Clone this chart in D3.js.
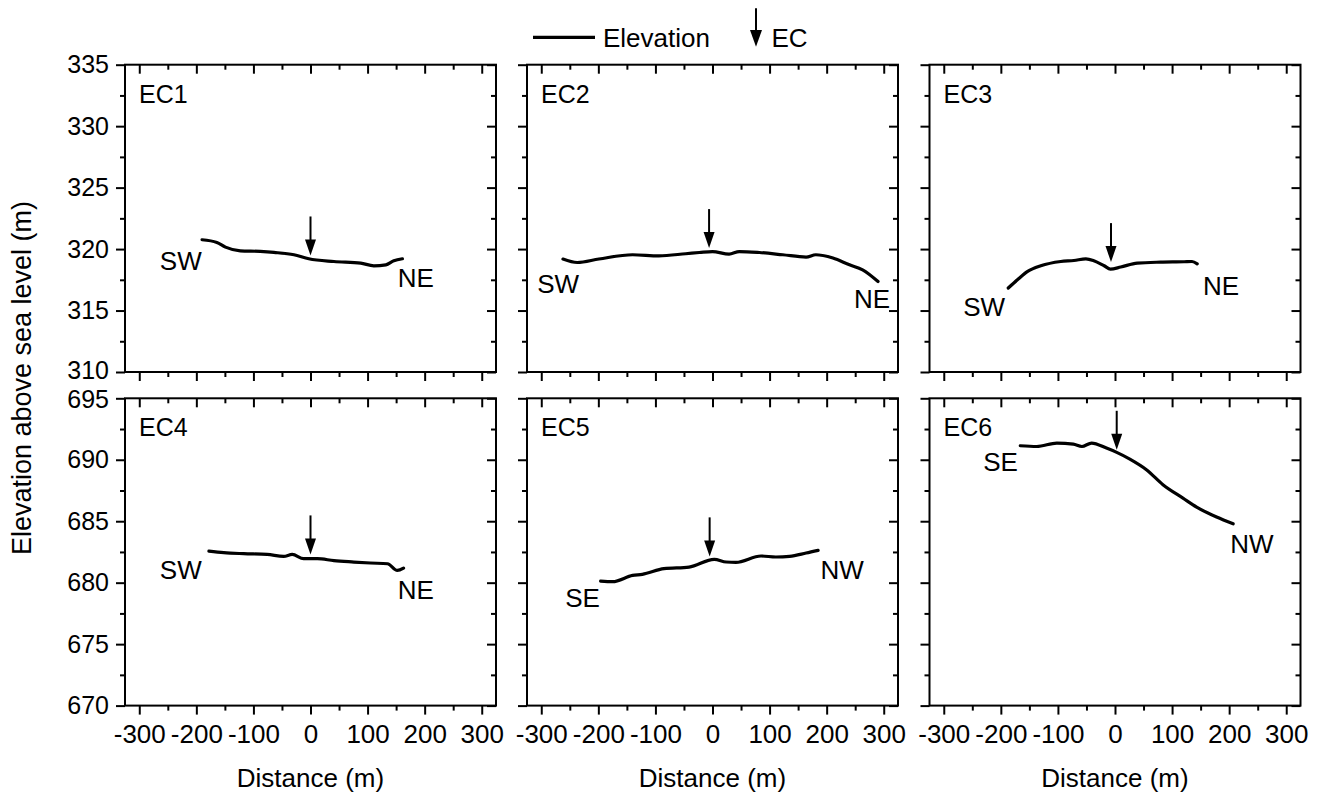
<!DOCTYPE html>
<html>
<head>
<meta charset="utf-8">
<script src="https://cdnjs.cloudflare.com/ajax/libs/d3/7.8.5/d3.min.js"></script>
<style>
  html, body { margin: 0; padding: 0; background: #fff; }
  svg { display: block; }
  text { font-family: "Liberation Sans", Arial, sans-serif; fill: #000; }
</style>
</head>
<body>
<svg id="chart" width="1323" height="798"></svg>
<script>
// ---------------- data ----------------
const panelNames = ["EC1", "EC2", "EC3", "EC4", "EC5", "EC6"];
const rowDomains = [[310, 335], [670, 695]];
const xDomain = [-325, 325];
const xMajorTicks = [-300, -200, -100, 0, 100, 200, 300];
const xMinorTicks = [-250, -150, -50, 50, 150, 250];
const yMajorTicksTop = [310, 315, 320, 325, 330, 335];
const yMinorTicksTop = [312.5, 317.5, 322.5, 327.5, 332.5];
const yMajorTicksBottom = [670, 675, 680, 685, 690, 695];
const yMinorTicksBottom = [672.5, 677.5, 682.5, 687.5, 692.5];

const ec1Dist = [-190, -164, -149, -123, -88, -64, -29, -3, 41, 88, 111, 132, 146, 161];
const ec1Elev = [320.76, 320.54, 320.16, 319.86, 319.81, 319.73, 319.54, 319.21, 318.99, 318.86, 318.64, 318.72, 319.05, 319.21];

const ec2Dist = [-262, -237, -199, -140, -94, -47, -23, 0, 29, 47, 82, 123, 164, 181, 211, 240, 263, 290];
const ec2Elev = [319.19, 318.91, 319.19, 319.54, 319.45, 319.62, 319.72, 319.8, 319.59, 319.8, 319.72, 319.54, 319.35, 319.54, 319.27, 318.72, 318.31, 317.36];

const ec3Dist = [-187, -171, -153, -130, -95, -72, -51, -37, -19, -8, 10, 39, 80, 121, 135, 144];
const ec3Elev = [316.83, 317.5, 318.18, 318.64, 318.99, 319.07, 319.21, 319.05, 318.64, 318.37, 318.54, 318.86, 318.94, 318.97, 318.99, 318.8];

const ec4Dist = [-178, -152, -117, -76, -47, -32, -12, 12, 41, 76, 105, 135, 152, 163];
const ec4Elev = [682.57, 682.44, 682.36, 682.3, 682.14, 682.3, 681.95, 681.95, 681.79, 681.68, 681.6, 681.54, 681.0, 681.19];

const ec5Dist = [-196, -175, -140, -123, -85, -41, 3, 24, 41, 85, 111, 135, 164, 185];
const ec5Elev = [680.13, 680.08, 680.59, 680.68, 681.14, 681.27, 681.9, 681.68, 681.65, 682.17, 682.09, 682.14, 682.41, 682.63];

const ec6Dist = [-166, -137, -102, -73, -58, -41, -15, 3, 26, 55, 84, 119, 143, 178, 207];
const ec6Elev = [691.14, 691.08, 691.36, 691.27, 691.08, 691.36, 690.95, 690.6, 690.05, 689.19, 687.97, 686.88, 686.15, 685.34, 684.79];

// EC location markers (arrow tip: distance, elevation)
const arrowDist = [0, -6, -7, 0, -5, 3];
const arrowElev = [319.48, 320.08, 318.94, 682.3, 682.14, 690.81];

// direction labels: [text, distance, elevation] (start / end of each transect)
const startLabels = [["SW", -264, 318.3], ["SW", -307, 316.43], ["SW", -266, 314.56],
                     ["SW", -264, 680.31], ["SE", -258, 678.03], ["SE", -231, 689.09]];
const endLabels = [["NE", 153, 316.92], ["NE", 248, 315.21], ["NE", 154, 316.26],
                   ["NE", 153, 678.68], ["NW", 189, 680.31], ["NW", 202, 682.42]];

const xTitle = "Distance (m)";
const yTitle = "Elevation above sea level (m)";
const legendLine = "Elevation";
const legendArrow = "EC";

const series = [[ec1Dist, ec1Elev], [ec2Dist, ec2Elev], [ec3Dist, ec3Elev],
                [ec4Dist, ec4Elev], [ec5Dist, ec5Elev], [ec6Dist, ec6Elev]];

// ---------------- layout ----------------
const colLeft = [125, 527, 929.5];
const rowTop = [64.7, 398.3];
const pw = 371, ph = 307.3;
const FONT = 26;
const FONT_Y = 25;

const svg = d3.select("#chart");
const fmt = d => String(d);

panelNames.forEach((name, i) => {
  const row = Math.floor(i / 3), col = i % 3;
  const g = svg.append("g").attr("transform", `translate(${colLeft[col]},${rowTop[row]})`);
  const x = d3.scaleLinear().domain(xDomain).range([0, pw]);
  const y = d3.scaleLinear().domain(rowDomains[row]).range([ph, 0]);
  const yMaj = row === 0 ? yMajorTicksTop : yMajorTicksBottom;
  const yMin = row === 0 ? yMinorTicksTop : yMinorTicksBottom;

  const styleAxis = sel => {
    sel.select(".domain").remove();
    sel.selectAll("line").attr("stroke", "#000").attr("stroke-width", 2);
  };

  // bottom (outward)
  const gb = g.append("g").attr("transform", `translate(0,${ph})`)
    .call(d3.axisBottom(x).tickValues(xMajorTicks).tickSize(9).tickFormat(row === 1 ? fmt : () => ""))
    .call(styleAxis);
  gb.selectAll("text").attr("dy", 0).attr("y", 37.5).style("font-size", FONT + "px")
    .style("font-family", '"Liberation Sans", Arial, sans-serif');
  g.append("g").attr("transform", `translate(0,${ph})`)
    .call(d3.axisBottom(x).tickValues(xMinorTicks).tickSize(5).tickFormat(() => "")).call(styleAxis);
  // top (inward)
  g.append("g").call(d3.axisTop(x).tickValues(xMajorTicks).tickSize(-9).tickFormat(() => "")).call(styleAxis);
  g.append("g").call(d3.axisTop(x).tickValues(xMinorTicks).tickSize(-5).tickFormat(() => "")).call(styleAxis);
  // left (outward)
  const gl = g.append("g")
    .call(d3.axisLeft(y).tickValues(yMaj).tickSize(9).tickPadding(7).tickFormat(col === 0 ? fmt : () => ""))
    .call(styleAxis);
  gl.selectAll("text").style("font-size", FONT_Y + "px")
    .style("font-family", '"Liberation Sans", Arial, sans-serif')
    .attr("y", d => {
      // nudge the two labels that meet between the rows apart
      if (row === 0 && d === rowDomains[0][0]) return -1.5;
      if (row === 1 && d === rowDomains[1][1]) return 1.5;
      return 0;
    });
  g.append("g").call(d3.axisLeft(y).tickValues(yMin).tickSize(5).tickFormat(() => "")).call(styleAxis);
  // right (inward)
  g.append("g").attr("transform", `translate(${pw},0)`)
    .call(d3.axisRight(y).tickValues(yMaj).tickSize(-9).tickFormat(() => "")).call(styleAxis);
  g.append("g").attr("transform", `translate(${pw},0)`)
    .call(d3.axisRight(y).tickValues(yMin).tickSize(-5).tickFormat(() => "")).call(styleAxis);

  // frame
  g.append("rect").attr("width", pw).attr("height", ph)
    .attr("fill", "none").attr("stroke", "#000").attr("stroke-width", 2);

  // elevation profile
  const [dist, elev] = series[i];
  const pts = dist.map((d, k) => [d, elev[k]]);
  g.append("path").datum(pts)
    .attr("fill", "none").attr("stroke", "#000").attr("stroke-width", 3.2)
    .attr("stroke-linejoin", "round").attr("stroke-linecap", "round")
    .attr("d", d3.line().x(p => x(p[0])).y(p => y(p[1])).curve(d3.curveMonotoneX));

  // EC arrow
  const ax = x(arrowDist[i]), ay = y(arrowElev[i]);
  g.append("line").attr("x1", ax).attr("x2", ax).attr("y1", ay - 39).attr("y2", ay - 12)
    .attr("stroke", "#000").attr("stroke-width", 2);
  g.append("path").attr("d", `M${ax - 5.5},${ay - 16} L${ax + 5.5},${ay - 16} L${ax},${ay} Z`).attr("fill", "#000");

  // labels
  g.append("text").attr("x", 14).attr("y", 38).style("font-size", "25px").text(name);
  [startLabels[i], endLabels[i]].forEach(l => {
    g.append("text").attr("x", x(l[1])).attr("y", y(l[2])).style("font-size", FONT + "px").text(l[0]);
  });

  if (row === 1) {
    g.append("text").attr("x", pw / 2).attr("y", ph + 81).attr("text-anchor", "middle")
      .style("font-size", FONT + "px").text(xTitle);
  }
});

// y title
svg.append("text").attr("transform", "translate(31,378) rotate(-90)")
  .attr("text-anchor", "middle").style("font-size", "27px").text(yTitle);

// legend
svg.append("line").attr("x1", 533).attr("x2", 595).attr("y1", 37.3).attr("y2", 37.3)
  .attr("stroke", "#000").attr("stroke-width", 3.2);
svg.append("text").attr("x", 603).attr("y", 46.7).style("font-size", FONT + "px").text(legendLine);
svg.append("line").attr("x1", 756).attr("x2", 756).attr("y1", 8.3).attr("y2", 34)
  .attr("stroke", "#000").attr("stroke-width", 2);
svg.append("path").attr("d", "M750,30 L762,30 L756,46.7 Z").attr("fill", "#000");
svg.append("text").attr("x", 771.5).attr("y", 46.7).style("font-size", FONT + "px").text(legendArrow);
</script>
</body>
</html>
